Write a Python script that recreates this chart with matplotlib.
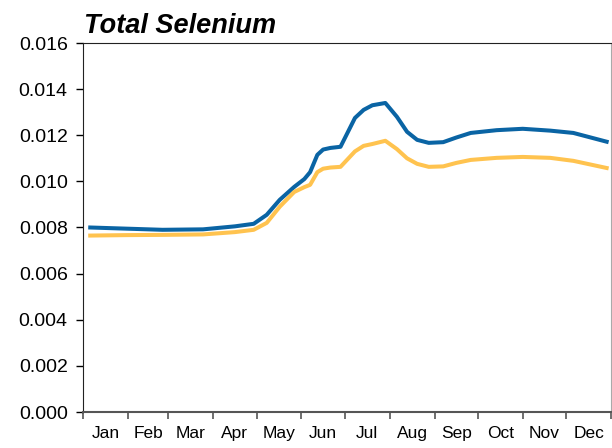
import matplotlib
matplotlib.use("Agg")
import matplotlib.pyplot as plt
from matplotlib.ticker import FixedLocator, NullFormatter, FormatStrFormatter

plt.rcParams['font.family'] = ['Liberation Sans', 'DejaVu Sans']

days = [5, 30, 55, 83, 105, 118, 127, 136, 146, 153, 157, 162, 166, 171, 178,
        188, 194, 200, 209, 217, 224, 231, 239, 249, 258, 268, 286, 304, 323, 339, 362]
blue = [0.00800, 0.00795, 0.00790, 0.00792, 0.00805, 0.00816, 0.00855, 0.00920,
        0.00976, 0.01010, 0.01040, 0.01115, 0.01138, 0.01145, 0.01150,
        0.01275, 0.01310, 0.01330, 0.01340, 0.01280, 0.01215, 0.01180, 0.01167,
        0.01170, 0.01190, 0.01210, 0.01222, 0.01228, 0.01220, 0.01210, 0.01172]
yellow = [0.00765, 0.00767, 0.00768, 0.00770, 0.00780, 0.00790, 0.00820, 0.00890,
          0.00954, 0.00975, 0.00985, 0.01040, 0.01055, 0.01060, 0.01063,
          0.01130, 0.01154, 0.01162, 0.01176, 0.01140, 0.01100, 0.01076, 0.01063,
          0.01065, 0.01080, 0.01093, 0.01102, 0.01106, 0.01102, 0.01089, 0.01058]

month_labels = ['Jan', 'Feb', 'Mar', 'Apr', 'May', 'Jun', 'Jul', 'Aug', 'Sep', 'Oct', 'Nov', 'Dec']
month_days = [31, 28, 31, 30, 31, 30, 31, 31, 30, 31, 30, 31]

starts = [0]
for d in month_days:
    starts.append(starts[-1] + d)
mids = [(starts[i] + starts[i + 1]) / 2 for i in range(12)]

fig = plt.figure(figsize=(6.12, 4.48), dpi=100)
ax = fig.add_axes([83 / 612, 36 / 448, 528 / 612, 369 / 448])

ax.plot(days, blue, color='#0a64a4', lw=2.9, solid_joinstyle='round')
ax.plot(days, yellow, color='#ffc34f', lw=2.9, solid_joinstyle='round')

ax.set_xlim(0, 365)
ax.set_ylim(0, 0.016)
ax.set_yticks([i * 0.002 for i in range(9)])
ax.yaxis.set_major_formatter(FormatStrFormatter('%.3f'))

ax.xaxis.set_major_locator(FixedLocator(starts))
ax.xaxis.set_major_formatter(NullFormatter())
ax.xaxis.set_minor_locator(FixedLocator(mids))
ax.set_xticklabels(month_labels, minor=True)
ax.tick_params(axis='x', which='minor', length=0, labelsize=12.5, pad=10)
ax.tick_params(axis='x', which='major', length=5, direction='out', width=1.2, color='#555555')
ax.tick_params(axis='y', length=5, direction='out', labelsize=14, width=1, pad=6)

for s in ['left', 'top']:
    ax.spines[s].set_color('#222222')
ax.spines['bottom'].set_color('#555555')
ax.spines['bottom'].set_linewidth(1.5)
ax.spines['right'].set_color('#aaaaaa')

fig.text(84 / 612, 1 - 33 / 448, 'Total Selenium', fontsize=19.5, fontweight='bold',
         fontstyle='italic', va='baseline', ha='left')

fig.savefig('out.png', dpi=100)
